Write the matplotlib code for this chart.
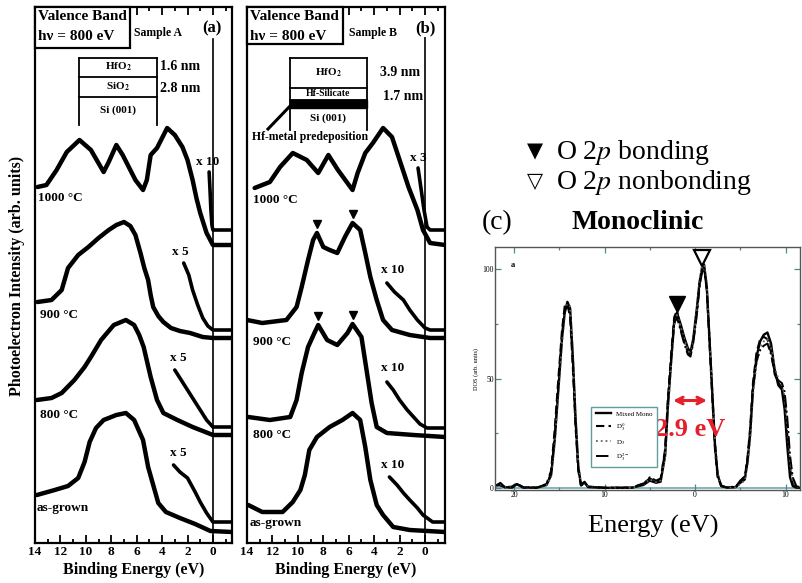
import matplotlib.pyplot as plt
from matplotlib.patches import Rectangle
from matplotlib.lines import Line2D
from matplotlib.ticker import MultipleLocator

W, H = 803, 583
plt.rcParams['font.family'] = ['Liberation Serif', 'DejaVu Serif']
plt.rcParams['mathtext.fontset'] = 'stix'

# ---- panel (a), sample A: binding energy (eV) vs intensity (arb.)
a_1000_e = [13.8, 13.1, 12.3, 11.5, 10.5, 9.6, 8.6, 8.2, 7.6, 7.1, 6.1, 5.5, 5.2,
            4.9, 4.4, 3.6, 3.0, 2.4, 2.0, 1.6, 1.3, 1.0, 0.7, 0.5, 0.0, -1.5]
a_1000_i = [356, 358, 373, 391, 403, 393, 371, 381, 398, 388, 363, 353, 363,
            388, 395, 415, 408, 396, 383, 363, 345, 330, 318, 310, 298, 298]
a_1000x_e = [0.3, 0.23, 0.16, 0.08, 0.0, -1.5]
a_1000x_i = [371, 353, 333, 318, 313, 313]

a_900_e = [13.8, 12.7, 11.9, 11.4, 10.6, 9.8, 9.0, 8.2, 7.6, 7.0, 6.5, 6.1, 5.7,
           5.4, 5.1, 4.9, 4.7, 4.3, 3.9, 3.3, 2.6, 1.8, 0.8, 0.0, -1.5]
a_900_i = [241, 243, 253, 275, 288, 296, 305, 313, 318, 321, 317, 308, 290,
           275, 263, 248, 236, 227, 221, 215, 212, 210, 206, 205, 205]
a_900x_e = [2.3, 1.9, 1.6, 1.2, 0.8, 0.4, 0.0, -1.5]
a_900x_i = [280, 268, 253, 238, 225, 217, 213, 213]

a_800_e = [13.85, 12.7, 11.9, 10.9, 10.1, 9.6, 8.8, 7.8, 6.85, 6.2, 5.8, 5.45,
           4.9, 4.4, 3.9, 2.8, 1.6, 0.0, -1.5]
a_800_i = [143, 145, 150, 163, 176, 186, 203, 218, 223, 218, 208, 196,
           166, 143, 130, 123, 116, 108, 108]
a_800x_e = [3.0, 2.6, 1.9, 1.4, 1.0, 0.5, 0.0, -1.5]
a_800x_i = [173, 165, 151, 141, 133, 123, 116, 116]

a_ag_e = [13.85, 12.45, 11.4, 10.6, 10.1, 9.7, 9.2, 8.6, 7.6, 6.85, 6.2, 5.5,
          5.1, 4.7, 4.3, 3.7, 2.6, 1.4, 0.2, -1.5]
a_ag_i = [48, 53, 57, 65, 81, 101, 115, 123, 128, 130, 123, 103,
          76, 58, 40, 31, 25, 19, 12, 11]
a_agx_e = [3.1, 2.6, 2.0, 1.4, 1.0, 0.5, 0.0, -1.5]
a_agx_i = [78, 71, 65, 51, 41, 30, 21, 21]

# ---- panel (b), sample B
b_1000_e = [13.4, 12.2, 11.4, 10.4, 9.3, 8.4, 7.6, 6.85, 5.7, 5.3, 4.7, 4.1,
            3.3, 2.6, 2.0, 1.3, 0.6, 0.16, -0.4, -1.57]
b_1000_i = [355, 361, 376, 390, 383, 370, 388, 373, 353, 370, 390, 400,
            415, 406, 383, 356, 333, 313, 300, 298]
b_1000x_e = [0.55, 0.3, 0.08, -0.16, -0.4, -1.57]
b_1000x_i = [375, 353, 333, 316, 313, 313]

b_900_e = [14.0, 12.8, 10.9, 10.1, 9.7, 9.2, 8.8, 8.5, 8.0, 7.5, 6.9, 6.3, 5.7,
           5.1, 4.7, 4.3, 3.8, 3.3, 2.6, 1.2, -0.4, -1.57]
b_900_i = [223, 220, 223, 236, 256, 283, 303, 310, 296, 293, 290, 306, 320,
           313, 290, 266, 243, 223, 213, 208, 205, 205]
b_900x_e = [3.0, 2.4, 1.7, 1.2, 0.6, 0.0, -0.4, -1.57]
b_900x_i = [260, 251, 243, 233, 223, 215, 213, 213]
b_900_tri_e = [8.5, 5.7]
b_900_tri_i = [319, 329]

b_800_e = [13.9, 12.2, 10.6, 10.1, 9.7, 9.2, 8.7, 8.4, 7.7, 6.9, 6.1, 5.7, 5.0,
           4.6, 4.2, 3.8, 3.0, 0.9, -1.57]
b_800_i = [126, 123, 126, 143, 170, 196, 210, 218, 203, 198, 210, 219, 206,
           173, 140, 116, 110, 108, 106]
b_800x_e = [3.0, 2.5, 2.0, 1.4, 0.9, 0.4, -0.16, -1.57]
b_800x_i = [161, 153, 143, 133, 126, 119, 115, 115]
b_800_tri_e = [8.4, 5.7]
b_800_tri_i = [227, 228]

b_ag_e = [13.9, 12.8, 11.2, 10.4, 9.8, 9.45, 9.1, 8.5, 7.5, 6.5, 5.7, 5.1, 4.7,
          4.3, 3.8, 3.3, 2.5, 1.2, -1.57]
b_ag_i = [38, 31, 31, 41, 53, 68, 93, 106, 116, 123, 130, 123, 96,
          63, 38, 28, 16, 13, 11]
b_agx_e = [2.8, 2.2, 1.7, 1.2, 0.6, 0.16, -0.6, -1.57]
b_agx_i = [66, 58, 50, 43, 35, 28, 21, 21]

be_ticks = [0, 2, 4, 6, 8, 10, 12, 14]
be_labels = ['0', '2', '4', '6', '8', '10', '12', '14']

# ---- panel (c), monoclinic DOS
dos_e = [-22.0, -21.5, -21.0, -20.2, -19.7, -19.0, -17.5, -16.4, -15.9, -15.5,
         -15.1, -14.7, -14.4, -14.1, -13.8, -13.5, -13.2, -12.9, -12.6, -12.2,
         -11.8, -10.0, -7.0, -5.7, -5.0, -4.3, -3.8, -3.3, -3.0, -2.6,
         -2.3, -2.0, -1.6, -1.2, -0.8, -0.5, -0.2, 0.2, 0.5, 0.8,
         1.0, 1.3, 1.6, 1.9, 2.2, 2.5, 2.9, 3.5, 4.5, 5.0,
         5.5, 5.8, 6.1, 6.4, 6.8, 7.2, 7.6, 8.0, 8.4, 8.8,
         9.2, 9.6, 9.9, 10.2, 10.5, 10.8, 11.2, 11.6]
dos_mixed = [1.0, 2.0, 0.5, 0.3, 1.8, 0.4, 0.2, 1.5, 6, 22,
             45, 68, 80, 85, 82, 60, 32, 10, 1.5, 2.5,
             0.5, 0.2, 0.2, 1.5, 3.5, 2.5, 3, 15, 37, 60,
             76, 80, 75, 69, 64, 62, 68, 82, 94, 101,
             102, 92, 68, 44, 20, 6, 1, 0.3, 0.5, 2.5,
             4, 12, 25, 45, 60, 67, 70, 71, 66, 54,
             47, 45, 36, 19, 5, 1, 0.3, 0.2]
dos_d30 = [1.5, 1.2, 0.4, 0.8, 2.2, 0.3, 0.2, 2.0, 8, 27,
           50, 72, 83, 84, 78, 55, 28, 8, 1.2, 2.0,
           0.8, 0.2, 0.3, 2.2, 4.5, 3.0, 4, 18, 41, 63,
           78, 81, 73, 67, 62, 61, 67, 80, 93, 100,
           101, 90, 66, 42, 18, 5, 1, 0.3, 0.6, 3.0,
           5, 14, 28, 48, 62, 68, 69, 68, 62, 52,
           48, 46, 40, 24, 9, 2, 0.5, 0.2]
dos_d3 = [0.8, 1.8, 0.6, 0.5, 1.5, 0.5, 0.2, 1.2, 5, 20,
          43, 66, 79, 84, 83, 62, 34, 12, 2.0, 2.8,
          0.6, 0.2, 0.2, 1.8, 4.0, 2.8, 3.5, 14, 35, 58,
          74, 79, 74, 68, 63, 61, 67, 81, 95, 102,
          103, 93, 70, 46, 22, 7, 1.5, 0.3, 0.4, 2.0,
          3.5, 10, 22, 42, 57, 64, 67, 68, 64, 55,
          50, 47, 42, 28, 12, 3, 0.8, 0.3]
dos_d32m = [1.2, 2.5, 0.3, 0.4, 2.0, 0.6, 0.3, 1.8, 7, 24,
            47, 70, 81, 83, 80, 58, 30, 9, 1.8, 3.0,
            0.7, 0.2, 0.3, 2.0, 5.0, 3.5, 4.5, 17, 39, 61,
            75, 78, 72, 66, 61, 60, 66, 79, 92, 99,
            100, 91, 69, 45, 21, 6, 1.2, 0.4, 0.8, 3.5,
            5.5, 13, 26, 46, 58, 63, 65, 66, 61, 53,
            49, 48, 44, 32, 15, 5, 1.0, 0.4]
dos_labels = ['Mixed Mono', r'D$_3^0$', r'D$_3$', r'D$_3^{2-}$']
c_xticks = [-20, -10, 0, 10]
c_xlabels = ['20', '10', '0', '10']
c_yticks = [0, 50, 100]
c_ylabels = ['0', '50', '100']
bond_e, bond_i = -2.0, 84
nonbond_e, nonbond_i = 0.77, 105
gap_lo, gap_hi = -2.43, 1.33

RED = '#e3202c'

fig = plt.figure(figsize=(W / 100, H / 100), dpi=100)


def px_axes(l, t, r, b):
    return fig.add_axes([l / W, 1 - b / H, (r - l) / W, (b - t) / H])


def ftext(px, py, s, **kw):
    kw.setdefault('fontweight', 'bold')
    return fig.text(px / W, 1 - py / H, s, **kw)


def fline(xs, ys, **kw):
    kw.setdefault('color', 'k')
    kw.setdefault('lw', 1.3)
    fig.add_artist(Line2D([x / W for x in xs], [1 - y / H for y in ys], **kw))


def frect(l, t, r, b, **kw):
    fig.add_artist(Rectangle((l / W, 1 - b / H), (r - l) / W, (b - t) / H,
                             transform=fig.transFigure, **kw))


def spectra_axes(ax, right, zero_top):
    ax.set_xlim(14, right)
    ax.set_ylim(0, 536)
    ax.set_yticks([])
    ax.set_xticks(be_ticks, be_labels, fontweight='bold')
    ax.xaxis.set_minor_locator(MultipleLocator(1))
    ax.tick_params(axis='x', which='both', direction='in', top=True,
                   width=1.3, pad=2, labelsize=9.5)
    ax.tick_params(axis='x', which='major', length=6)
    ax.tick_params(axis='x', which='minor', length=3)
    for s in ax.spines.values():
        s.set_linewidth(1.6)
    ax.axvline(0, 0, zero_top, color='k', lw=1.2)
    ax.set_xlabel('Binding Energy (eV)', fontsize=11.5, fontweight='bold',
                  labelpad=3)


def trace(ax, e, i, lw=3.2):
    ax.plot(e, i, color='k', lw=lw, solid_capstyle='round',
            solid_joinstyle='round')


# ---------------- panel (a)
ax_a = px_axes(35, 7, 232, 543)
spectra_axes(ax_a, -1.5, 0.94)
for e, i in [(a_1000_e, a_1000_i), (a_900_e, a_900_i), (a_800_e, a_800_i),
             (a_ag_e, a_ag_i)]:
    trace(ax_a, e, i)
for e, i in [(a_1000x_e, a_1000x_i), (a_900x_e, a_900x_i),
             (a_800x_e, a_800x_i), (a_agx_e, a_agx_i)]:
    trace(ax_a, e, i, lw=2.6)

# ---------------- panel (b)
ax_b = px_axes(247, 7, 445, 543)
spectra_axes(ax_b, -1.57, 0.955)
for e, i in [(b_1000_e, b_1000_i), (b_900_e, b_900_i), (b_800_e, b_800_i),
             (b_ag_e, b_ag_i)]:
    trace(ax_b, e, i)
for e, i in [(b_1000x_e, b_1000x_i), (b_900x_e, b_900x_i),
             (b_800x_e, b_800x_i), (b_agx_e, b_agx_i)]:
    trace(ax_b, e, i, lw=2.6)
ax_b.plot(b_900_tri_e, b_900_tri_i, 'v', color='k', ms=6, ls='none')
ax_b.plot(b_800_tri_e, b_800_tri_i, 'v', color='k', ms=6, ls='none')

fig.text(17 / W, 1 - 276 / H, 'Photoelectron Intensity (arb. units)',
         rotation=90, ha='center', va='center', fontsize=11.5,
         fontweight='bold')

# headers
for l, r, b, smp, sx, tag, tx in [(35, 130, 48, 'Sample A', 158, '(a)', 212),
                                   (247, 343, 44, 'Sample B', 373, '(b)', 425)]:
    frect(l, 7, r, b, fc='white', ec='k', lw=1.6, zorder=3)
    ftext(l + 3, 17, 'Valence Band', fontsize=11, va='center', zorder=4)
    ftext(l + 3, 36, 'hν = 800 eV', fontsize=11, va='center', zorder=4)
    ftext(sx, 33, smp, fontsize=8.5, ha='center', va='center')
    ftext(tx, 28, tag, fontsize=12, ha='center', va='center',
          bbox=dict(fc='white', ec='none', pad=0.5))

# layer schematic A
fline([79, 79], [58, 125])
fline([157, 157], [58, 125])
for y in [58, 77, 97]:
    fline([79, 157], [y, y])
ftext(118, 67, r'HfO$_\mathbf{2}$', fontsize=8, ha='center', va='center')
ftext(118, 87, r'SiO$_\mathbf{2}$', fontsize=8, ha='center', va='center')
ftext(118, 110, 'Si (001)', fontsize=8, ha='center', va='center')
ftext(160, 67, '1.6 nm', fontsize=10, va='center')
ftext(160, 88, '2.8 nm', fontsize=10, va='center')

# layer schematic B
fline([290, 290], [58, 130])
fline([367, 367], [58, 130])
for y in [58, 88, 100]:
    fline([290, 367], [y, y])
frect(290, 100, 367, 108, fc='k', ec='k', lw=1)
ftext(328, 73, r'HfO$_\mathbf{2}$', fontsize=8, ha='center', va='center')
ftext(328, 94, 'Hf-Silicate', fontsize=7, ha='center', va='center')
ftext(328, 118, 'Si (001)', fontsize=8, ha='center', va='center')
ftext(380, 72, '3.9 nm', fontsize=10, va='center')
ftext(383, 97, '1.7 nm', fontsize=10, va='center')
ftext(310, 137, 'Hf-metal predeposition', fontsize=8.5, ha='center',
      va='center')
fline([268, 292], [129, 104], lw=2.2)

# curve labels
for px, py, s in [(38, 198, '1000 °C'), (40, 315, '900 °C'), (40, 415, '800 °C'),
                  (37, 508, 'as-grown'), (253, 200, '1000 °C'),
                  (253, 342, '900 °C'), (253, 435, '800 °C'),
                  (250, 523, 'as-grown')]:
    ftext(px, py, s, fontsize=9.5, va='center')
for px, py, s in [(208, 162, 'x 10'), (180, 252, 'x 5'), (178, 358, 'x 5'),
                  (178, 453, 'x 5'), (418, 158, 'x 3'), (393, 270, 'x 10'),
                  (393, 368, 'x 10'), (393, 465, 'x 10')]:
    ftext(px, py, s, fontsize=9.5, ha='center', va='center')

# ---------------- panel (c)
ax_c = px_axes(495, 247, 800, 490)
styles = [dict(color='k', lw=1.7, ls='-'),
          dict(color='k', lw=1.5, ls=(0, (4, 2))),
          dict(color='0.4', lw=1.3, ls=':'),
          dict(color='k', lw=1.4, ls='-.')]
for vals, lab, st in zip([dos_mixed, dos_d30, dos_d3, dos_d32m], dos_labels,
                         styles):
    ax_c.plot(dos_e, vals, label=lab, **st)
ax_c.axhline(0, color='#6fa9ad', lw=1.2, zorder=1)
ax_c.set_xlim(-22.1, 11.6)
ax_c.set_ylim(-0.8, 110)
ax_c.set_xticks(c_xticks, c_xlabels)
ax_c.set_yticks(c_yticks, c_ylabels)
ax_c.xaxis.set_minor_locator(MultipleLocator(5))
ax_c.yaxis.set_minor_locator(MultipleLocator(25))
ax_c.tick_params(which='both', direction='in', top=True, right=True,
                 labelsize=5.5, pad=1, color='#4d8a90', width=0.9)
ax_c.tick_params(which='major', length=4)
ax_c.tick_params(which='minor', length=2)
for s in ax_c.spines.values():
    s.set_linewidth(1.0)
    s.set_color('#555555')
ax_c.set_ylabel('DOS (arb. units)', fontsize=4.5, labelpad=2)
ax_c.text(-20.4, 101, 'a', fontsize=6, fontweight='bold')
ax_c.plot(bond_e, bond_i, marker='v', ms=12, color='k')
ax_c.plot(nonbond_e, nonbond_i, marker='v', ms=12, mfc='white', mec='k',
          mew=1.6, clip_on=False)
ax_c.annotate('', xy=(gap_lo, 40), xytext=(gap_hi, 40),
              arrowprops=dict(arrowstyle='<->', color=RED, lw=2.2,
                              mutation_scale=12, shrinkA=0, shrinkB=0))
ax_c.text((gap_lo + gap_hi) / 2, 27, '2.9 eV', color=RED, fontsize=19,
          fontweight='bold', ha='center', va='center')
leg = ax_c.legend(loc='lower left', bbox_to_anchor=(0.305, 0.08), fontsize=5,
                  fancybox=False, edgecolor='#5f9ea0', handlelength=2.2,
                  borderpad=0.6, labelspacing=0.7, framealpha=1)
leg.get_frame().set_linewidth(1.0)

ftext(535, 151, '▼', fontsize=15, ha='center', va='center',
      fontweight='normal', family=['DejaVu Sans'])
ftext(535, 181, '▽', fontsize=15, ha='center', va='center',
      fontweight='normal', family=['DejaVu Sans'])
ftext(556, 159, r'O 2$p$ bonding', fontsize=20, va='baseline',
      fontweight='normal')
ftext(556, 189, r'O 2$p$ nonbonding', fontsize=20, va='baseline',
      fontweight='normal')
ftext(482, 229, '(c)', fontsize=20, va='baseline', fontweight='normal')
ftext(638, 229, 'Monoclinic', fontsize=20, ha='center', va='baseline')
ftext(653, 533, 'Energy (eV)', fontsize=19, ha='center', va='baseline',
      fontweight='normal')

fig.savefig('out.png', dpi=100)
